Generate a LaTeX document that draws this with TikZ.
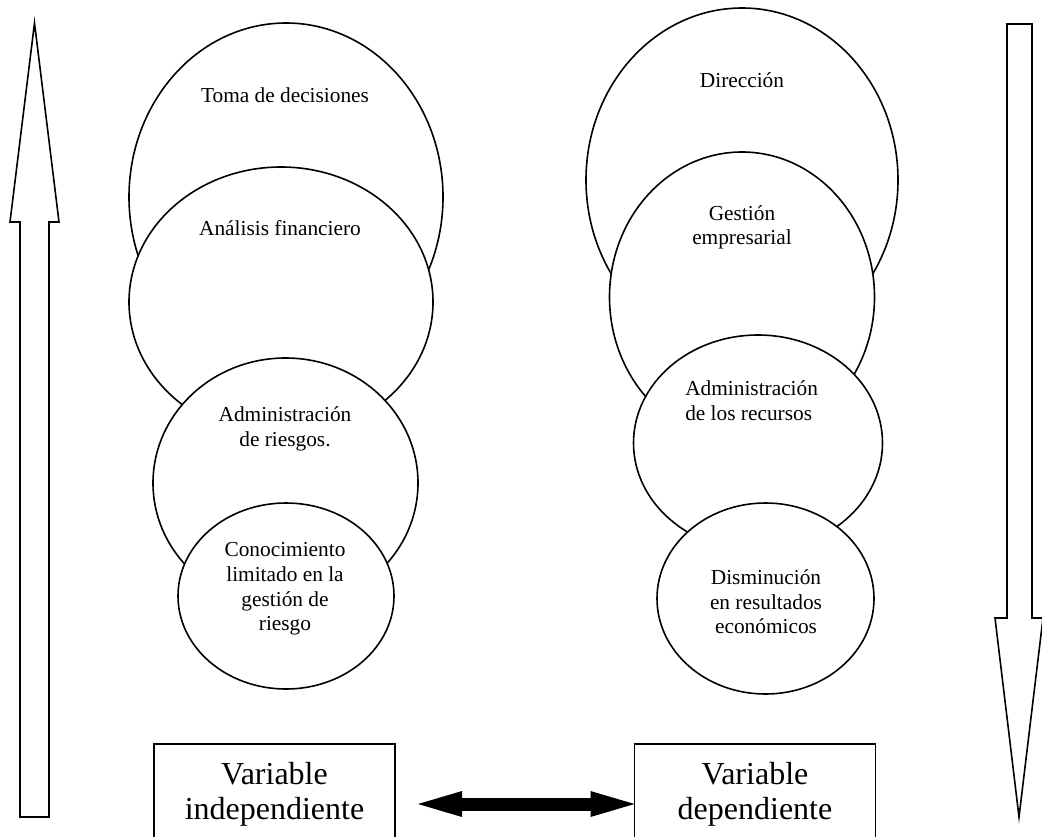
\documentclass[tikz,border=0pt]{standalone}
\usepackage{fontspec}
\setmainfont{Liberation Serif}
\usetikzlibrary{arrows.meta}

\begin{document}
\begin{tikzpicture}[x=0.75pt,y=-0.75pt,
	oval/.style={line width=1.2pt,fill=white},
	txt/.style={align=center,inner sep=0pt,font=\fontsize{16}{18.5}\selectfont},
	varbox/.style={draw,line width=1.2pt,anchor=north,outer sep=0pt,minimum width=180.75pt,minimum height=75pt,align=center,font=\fontsize{24}{26.3}\selectfont},
	blockarrow/.style={line width=1.2pt,fill=white,line join=miter},
	fat/.style={line width=9.75pt,{Triangle[length=33pt,width=19.5pt,line width=0pt]}-{Triangle[length=33pt,width=19.5pt,line width=0pt]}}]
	\useasboundingbox (0,0) rectangle (1042,836);
	\clip (0,0) rectangle (1042,836);
	%SIDE ARROWS
	\draw[blockarrow] (34.5,23)--(59,222)--(49,222)--(49,817)--(20,817)--(20,222)--(10,222)--cycle;
	\draw[blockarrow] (1019,817)--(1043,618)--(1032,618)--(1032,24)--(1007,24)--(1007,618)--(995,618)--cycle;
	%LEFT CIRCLES
	\draw[oval] (286,197) ellipse (157 and 174);
		\node[txt] (toma) at (285,95) {Toma de decisiones};
	\draw[oval] (281,302) ellipse (152 and 135);
		\node[txt] (analisis) at (280,228) {Análisis financiero};
	\draw[oval] (285.5,483) ellipse (132.5 and 125);
		\node[txt] (riesgos) at (285,429) {Administración\\de riesgos.};
	\draw[oval] (286,596) ellipse (108 and 93);
		\node[txt] (conoc) at (285,589) {Conocimiento\\limitado en la\\gestión de\\riesgo};
	%RIGHT CIRCLES
	\draw[oval] (742,180) ellipse (156 and 172);
		\node[txt] (direccion) at (742,80) {Dirección};
	\draw[oval] (742,297) ellipse (132.5 and 145);
		\node[txt] (gestion) at (742,227.5) {Gestión\\empresarial};
	\draw[oval] (758,443) ellipse (124.5 and 108);
		\node[txt,align=left,anchor=west] (recursos) at (685,400.5) {Administración\\de los recursos};
	\draw[oval] (765.5,598.5) ellipse (108.5 and 95.5);
		\node[txt] (disminucion) at (766,602) {Disminución\\en resultados\\económicos};
	%VARIABLES
	\node[varbox] (indep) at (274.5,744) {Variable\\independiente};
	\node[varbox] (dep) at (755,744) {Variable\\dependiente};
	\draw[fat,shorten <=17.25pt] ([yshift=-7.5pt]indep.east)--([yshift=-7.5pt]dep.west);
\end{tikzpicture}
\end{document}
